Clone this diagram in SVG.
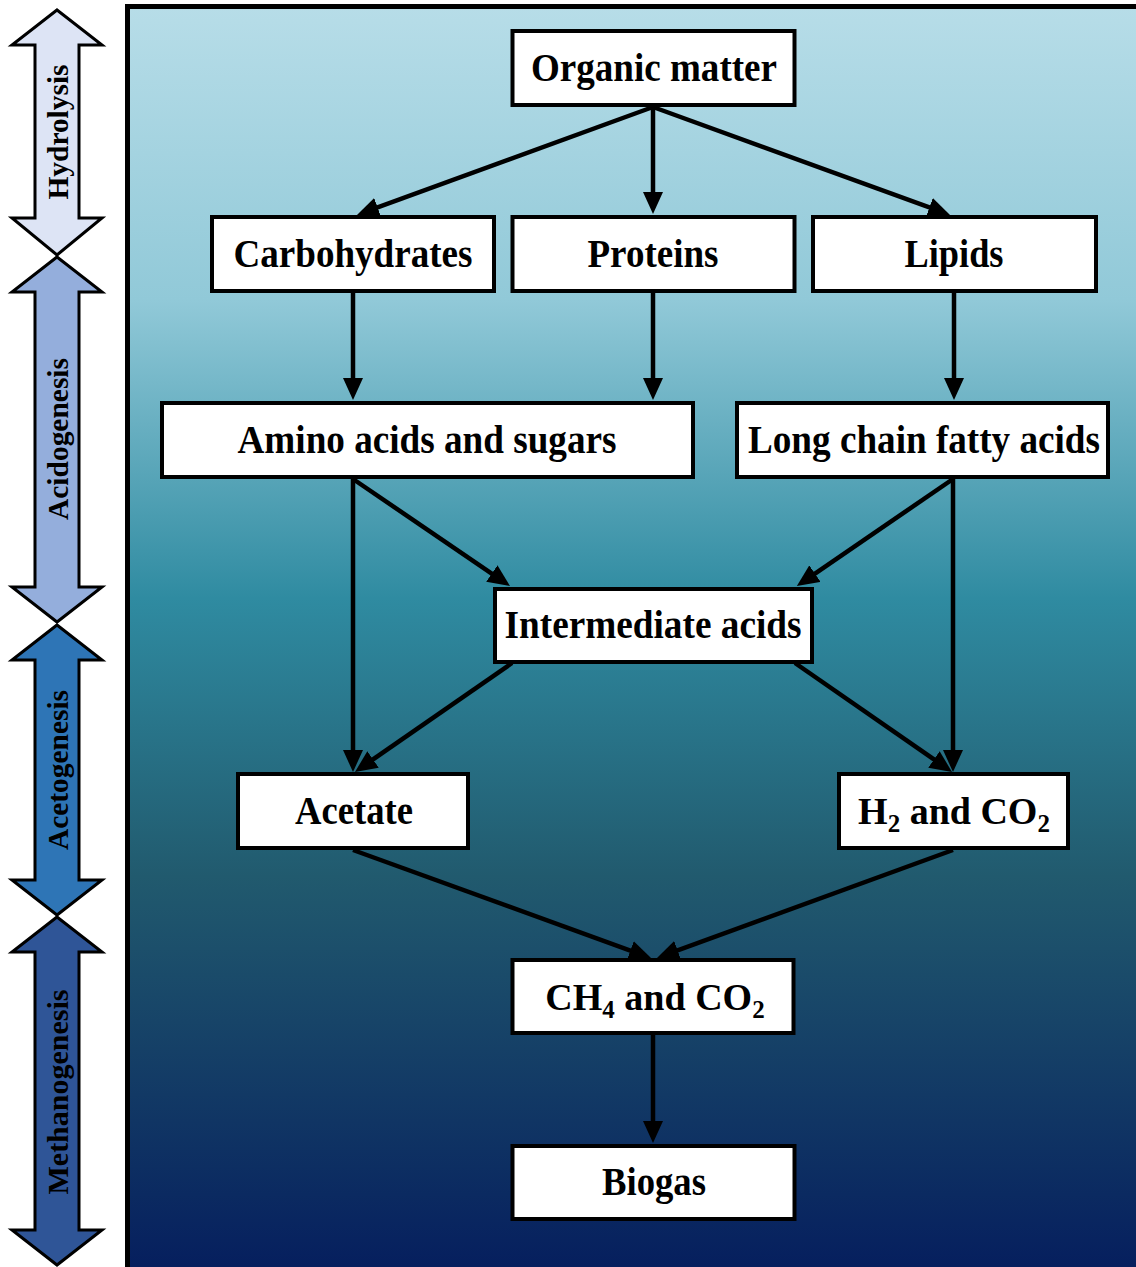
<svg xmlns="http://www.w3.org/2000/svg" width="1136" height="1267" viewBox="0 0 1136 1267">
<defs>
<linearGradient id="bg" x1="0" y1="6" x2="0" y2="1267" gradientUnits="userSpaceOnUse">
<stop offset="0" stop-color="#b7dde8"/>
<stop offset="0.233" stop-color="#91c9d8"/>
<stop offset="0.47" stop-color="#2f8ba1"/>
<stop offset="0.69" stop-color="#215a6e"/>
<stop offset="1" stop-color="#061f5e"/>
</linearGradient>
<marker id="ah" markerUnits="userSpaceOnUse" markerWidth="22" markerHeight="20" refX="11" refY="10" orient="auto" viewBox="0 0 22 20">
<path d="M0,0 L22,10 L0,20 z" fill="#000"/>
</marker>
<style>
.box{fill:#fff;stroke:#000;stroke-width:4}
.lbl{font-family:'Liberation Serif','DejaVu Serif',serif;font-weight:bold;font-size:39px;fill:#000;text-anchor:middle}
.sub{font-family:'Liberation Serif','DejaVu Serif',serif;font-weight:bold;font-size:38px;fill:#000;text-anchor:middle}
.conn line{stroke:#000;stroke-width:4.5;marker-end:url(#ah)}
.stage{stroke:#000;stroke-width:3;stroke-linejoin:miter}
.slbl{font-family:'Liberation Serif','DejaVu Serif',serif;font-weight:bold;font-size:30px;fill:#000;text-anchor:middle}
</style>
</defs>
<rect x="127.5" y="6.5" width="1030" height="1280" fill="url(#bg)" stroke="#000" stroke-width="5"/>

<g id="stages">
<g id="hydrolysis">
<polygon class="stage" fill="#dde4f5" points="57,10 102,45 79,45 79,218 102,218 57,255 12,218 35,218 35,45 12,45"/>
<text class="slbl" transform="translate(68,132) rotate(-90)" textLength="135" lengthAdjust="spacingAndGlyphs">Hydrolysis</text>
</g>
<g id="acidogenesis">
<polygon class="stage" fill="#94aedc" points="57,257 102,292 79,292 79,587 102,587 57,622 12,587 35,587 35,292 12,292"/>
<text class="slbl" transform="translate(68,439) rotate(-90)" textLength="162" lengthAdjust="spacingAndGlyphs">Acidogenesis</text>
</g>
<g id="acetogenesis">
<polygon class="stage" fill="#2e75b6" points="57,625 102,660 79,660 79,880 102,880 57,915 12,880 35,880 35,660 12,660"/>
<text class="slbl" transform="translate(68,770) rotate(-90)" textLength="160" lengthAdjust="spacingAndGlyphs">Acetogenesis</text>
</g>
<g id="methanogenesis">
<polygon class="stage" fill="#2f5597" points="57,917 102,952 79,952 79,1230 102,1230 57,1265 12,1230 35,1230 35,952 12,952"/>
<text class="slbl" transform="translate(68,1092) rotate(-90)" textLength="205" lengthAdjust="spacingAndGlyphs">Methanogenesis</text>
</g>
</g>

<g id="connectors" class="conn">
<line x1="653" y1="107" x2="653" y2="203"/>
<line x1="653" y1="107" x2="367.3" y2="211.2"/>
<line x1="653" y1="107" x2="939.7" y2="211.2"/>
<line x1="353" y1="293" x2="353" y2="389"/>
<line x1="653" y1="293" x2="653" y2="389"/>
<line x1="954" y1="293" x2="954" y2="389"/>
<line x1="353" y1="479" x2="500.9" y2="579.8"/>
<line x1="353" y1="479" x2="353" y2="761"/>
<line x1="953" y1="479" x2="805.9" y2="579.8"/>
<line x1="953" y1="479" x2="953" y2="761"/>
<line x1="512" y1="663" x2="364.0" y2="765.7"/>
<line x1="795" y1="663" x2="943.0" y2="765.7"/>
<line x1="353" y1="850" x2="640.7" y2="954.3"/>
<line x1="953" y1="850" x2="667.3" y2="954.2"/>
<line x1="653" y1="1035" x2="653" y2="1132"/>
</g>

<g id="nodes">
<g id="organic-matter">
<rect class="box" x="512.5" y="31" width="282" height="74"/>
<text class="lbl" x="654" y="81" textLength="246" lengthAdjust="spacingAndGlyphs">Organic matter</text>
</g>
<g id="carbohydrates">
<rect class="box" x="212" y="217" width="282" height="74"/>
<text class="lbl" x="353" y="267" textLength="239" lengthAdjust="spacingAndGlyphs">Carbohydrates</text>
</g>
<g id="proteins">
<rect class="box" x="512.5" y="217" width="282" height="74"/>
<text class="lbl" x="653" y="267" textLength="131" lengthAdjust="spacingAndGlyphs">Proteins</text>
</g>
<g id="lipids">
<rect class="box" x="813" y="217" width="283" height="74"/>
<text class="lbl" x="954" y="267" textLength="99" lengthAdjust="spacingAndGlyphs">Lipids</text>
</g>
<g id="amino-acids">
<rect class="box" x="162" y="403" width="531" height="74"/>
<text class="lbl" x="427" y="453" textLength="379" lengthAdjust="spacingAndGlyphs">Amino acids and sugars</text>
</g>
<g id="lcfa">
<rect class="box" x="737" y="403" width="371" height="74"/>
<text class="lbl" x="924" y="453" textLength="352" lengthAdjust="spacingAndGlyphs">Long chain fatty acids</text>
</g>
<g id="intermediate-acids">
<rect class="box" x="495" y="589" width="317" height="73"/>
<text class="lbl" x="653" y="638" textLength="297" lengthAdjust="spacingAndGlyphs">Intermediate acids</text>
</g>
<g id="acetate">
<rect class="box" x="238" y="774" width="230" height="74"/>
<text class="lbl" x="354" y="824" textLength="118" lengthAdjust="spacingAndGlyphs">Acetate</text>
</g>
<g id="h2-co2">
<rect class="box" x="839" y="774" width="229" height="74"/>
<text class="sub" x="954" y="824">H<tspan font-size="25" dy="8">2</tspan><tspan dy="-8"> and CO</tspan><tspan font-size="25" dy="8">2</tspan></text>
</g>
<g id="ch4-co2">
<rect class="box" x="512.5" y="960" width="281" height="73"/>
<text class="sub" x="655" y="1010">CH<tspan font-size="25" dy="8">4</tspan><tspan dy="-8"> and CO</tspan><tspan font-size="25" dy="8">2</tspan></text>
</g>
<g id="biogas">
<rect class="box" x="512.5" y="1146" width="282" height="73"/>
<text class="lbl" x="654" y="1195" textLength="104" lengthAdjust="spacingAndGlyphs">Biogas</text>
</g>
</g>
</svg>
